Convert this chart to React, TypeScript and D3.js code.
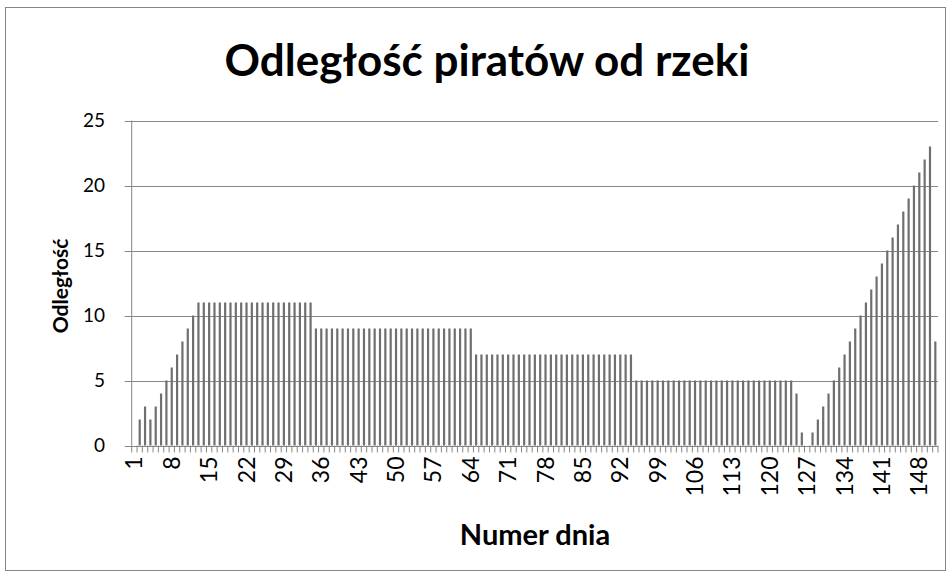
import React, { useEffect, useRef } from "react";
import * as d3 from "d3";

// distance of the pirates from the river, one value per day (days 1..151)
const days = d3.range(1, 152);
const distances = [
  0, 2, 3, 2, 3, 4, 5, 6, 7, 8, 9, 10,
  11, 11, 11, 11, 11, 11, 11, 11, 11, 11, 11, 11, 11, 11, 11, 11, 11, 11, 11, 11, 11, 11,
  9, 9, 9, 9, 9, 9, 9, 9, 9, 9, 9, 9, 9, 9, 9, 9, 9, 9, 9, 9, 9, 9, 9, 9, 9, 9, 9, 9, 9, 9,
  7, 7, 7, 7, 7, 7, 7, 7, 7, 7, 7, 7, 7, 7, 7, 7, 7, 7, 7, 7, 7, 7, 7, 7, 7, 7, 7, 7, 7, 7,
  5, 5, 5, 5, 5, 5, 5, 5, 5, 5, 5, 5, 5, 5, 5, 5, 5, 5, 5, 5, 5, 5, 5, 5, 5, 5, 5, 5, 5, 5,
  4, 1, 0, 1,
  2, 3, 4, 5, 6, 7, 8, 9, 10, 11, 12, 13, 14, 15, 16, 17, 18, 19, 20, 21, 22, 23,
  8,
];
const tickDays = [1, 8, 15, 22, 29, 36, 43, 50, 57, 64, 71, 78, 85, 92, 99, 106, 113, 120, 127, 134, 141, 148];
const yTicks = [0, 5, 10, 15, 20, 25];

const title = "Odległość piratów od rzeki";
const xTitle = "Numer dnia";
const yTitle = "Odległość";

const App = () => {
  const ref = useRef<SVGSVGElement>(null);

  useEffect(() => {
    const width = 952;
    const height = 577;
    const left = 131.7;
    const right = 938;
    const top = 120.5;
    const bottom = 445.5;
    const font = "Lato, 'Open Sans', sans-serif";
    const grey = "#868686";

    const svg = d3.select(ref.current);
    svg.selectAll("*").remove();
    svg.attr("width", width).attr("height", height);

    // frame
    svg
      .append("rect")
      .attr("x", 5.5)
      .attr("y", 7.5)
      .attr("width", 940)
      .attr("height", 563)
      .attr("fill", "#fff")
      .attr("stroke", grey)
      .attr("stroke-width", 1);

    const x = d3.scaleBand<number>().domain(days).range([left, right]).padding(0);
    const y = d3.scaleLinear().domain([0, 25]).range([bottom, top]);
    const step = x.step();

    // gridlines + y ticks
    svg
      .append("g")
      .selectAll("line")
      .data(yTicks)
      .join("line")
      .attr("x1", left - 7)
      .attr("x2", right)
      .attr("y1", (d) => Math.round(y(d)) + 0.5)
      .attr("y2", (d) => Math.round(y(d)) + 0.5)
      .attr("stroke", grey);

    svg
      .append("g")
      .selectAll("text")
      .data(yTicks)
      .join("text")
      .attr("x", 105)
      .attr("y", (d) => y(d))
      .attr("dy", "0.35em")
      .attr("text-anchor", "end")
      .attr("font-family", font)
      .attr("font-size", 19)
      .attr("fill", "#000")
      .text((d) => d);

    // y axis line
    svg
      .append("line")
      .attr("x1", left)
      .attr("x2", left)
      .attr("y1", top)
      .attr("y2", bottom)
      .attr("stroke", grey);

    // bars
    const barW = 2.2;
    svg
      .append("g")
      .selectAll("rect")
      .data(days)
      .join("rect")
      .attr("x", (d) => x(d)! + step / 2 - barW / 2)
      .attr("y", (d, i) => y(distances[i]))
      .attr("width", barW)
      .attr("height", (d, i) => bottom - y(distances[i]))
      .attr("fill", "#6f6f6f");

    // x tick marks at category boundaries
    svg
      .append("g")
      .selectAll("line")
      .data(d3.range(days.length + 1))
      .join("line")
      .attr("x1", (i) => left + i * step)
      .attr("x2", (i) => left + i * step)
      .attr("y1", bottom)
      .attr("y2", bottom + 7)
      .attr("stroke", grey);

    // x tick labels
    svg
      .append("g")
      .selectAll("text")
      .data(tickDays)
      .join("text")
      .attr("transform", (d) => `translate(${x(d)! + step / 2},${bottom + 11}) rotate(-90)`)
      .attr("dy", "0.35em")
      .attr("text-anchor", "end")
      .attr("font-family", font)
      .attr("font-size", 23)
      .attr("fill", "#000")
      .text((d) => d);

    // titles
    svg
      .append("text")
      .attr("x", 487)
      .attr("y", 76)
      .attr("text-anchor", "middle")
      .attr("font-family", font)
      .attr("font-weight", "bold")
      .attr("font-size", 44)
      .attr("fill", "#000")
      .text(title);

    svg
      .append("text")
      .attr("x", 535)
      .attr("y", 545)
      .attr("text-anchor", "middle")
      .attr("font-family", font)
      .attr("font-weight", "bold")
      .attr("font-size", 29)
      .attr("fill", "#000")
      .text(xTitle);

    svg
      .append("text")
      .attr("transform", "translate(68,286) rotate(-90)")
      .attr("text-anchor", "middle")
      .attr("font-family", font)
      .attr("font-weight", "bold")
      .attr("font-size", 21)
      .attr("fill", "#000")
      .text(yTitle);
  }, []);

  return <svg ref={ref} style={{ position: "absolute", left: 0, top: 0 }}></svg>;
};

export default App;
